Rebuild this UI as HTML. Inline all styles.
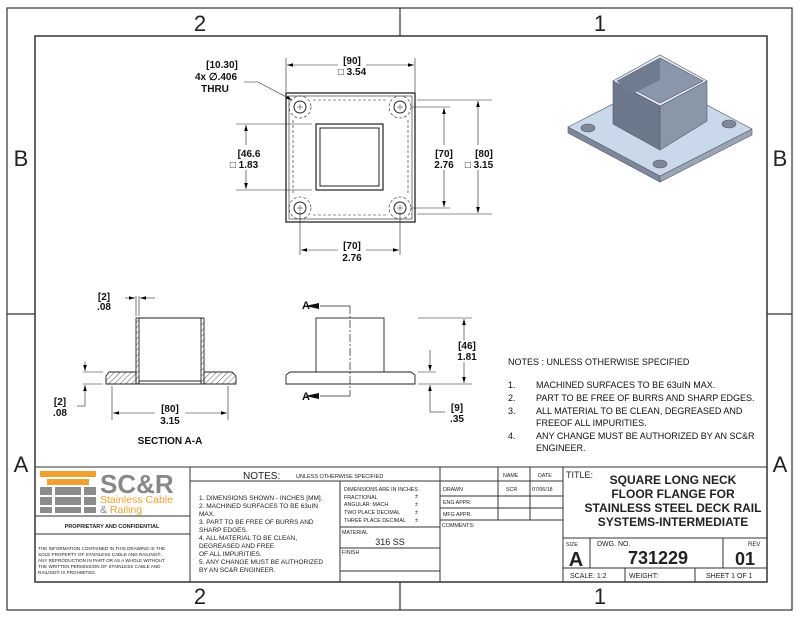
<!DOCTYPE html>
<html><head><style>body{margin:0;background:#fff}svg{display:block}text{font-family:"Liberation Sans",sans-serif}</style></head><body>
<svg width="800" height="618" viewBox="0 0 800 618" xmlns="http://www.w3.org/2000/svg">
<defs>
<pattern id="h" width="4" height="4" patternUnits="userSpaceOnUse" patternTransform="rotate(45)"><line x1="0" y1="0" x2="0" y2="4" stroke="#333" stroke-width="0.8"/></pattern>
<marker id="a" markerWidth="10" markerHeight="6" refX="10" refY="3" orient="auto-start-reverse"><path d="M0,0 L10,3 L0,6z" fill="#000"/></marker>
</defs>
<g fill="none" stroke="#333" stroke-width="1.2">
<rect x="7" y="8" width="785" height="602"/>
<rect x="35" y="36" width="732" height="546" stroke-width="1.5"/>
<line x1="400" y1="8" x2="400" y2="36"/><line x1="400" y1="582" x2="400" y2="610"/>
<line x1="7" y1="314" x2="35" y2="314"/><line x1="767" y1="314" x2="792" y2="314"/>
</g>
<g font-size="22" fill="#222" text-anchor="middle" font-family="Liberation Sans">
<text x="200" y="31">2</text><text x="600" y="31">1</text>
<text x="200" y="604">2</text><text x="600" y="604">1</text>
<text x="21" y="166">B</text><text x="780" y="166">B</text>
<text x="21" y="472">A</text><text x="780" y="472">A</text>
</g>
<g fill="none" stroke="#222" stroke-width="1">
<rect x="286" y="93" width="129" height="129" stroke-width="1.3"/>
<rect x="289" y="96" width="123" height="123" stroke-width="0.6"/>
<rect x="316" y="124" width="67" height="66" stroke-width="1.2"/>
<rect x="320" y="128" width="59" height="58"/>
<path d="M313,100 H388 M313,215 H388 M293,120 V195 M408,120 V195" stroke-dasharray="3,2" stroke-width="0.6"/>
<g stroke-dasharray="3,2" stroke-width="0.6"><circle cx="300" cy="107" r="11"/><circle cx="400" cy="107" r="11"/><circle cx="300" cy="208" r="11"/><circle cx="400" cy="208" r="11"/></g>
<circle cx="300" cy="107" r="6"/><circle cx="400" cy="107" r="6"/><circle cx="300" cy="208" r="6"/><circle cx="400" cy="208" r="6"/>
<path d="M297,107h6M300,104v6M397,107h6M400,104v6M297,208h6M300,205v6M397,208h6M400,205v6" stroke-width="0.5"/>
<g stroke-width="0.6">
<line x1="286" y1="58" x2="286" y2="92"/><line x1="415" y1="58" x2="415" y2="92"/>
<line x1="287" y1="65" x2="338" y2="65" marker-start="url(#a)"/><line x1="366" y1="65" x2="414" y2="65" marker-end="url(#a)"/>
<line x1="300" y1="212" x2="300" y2="255"/><line x1="400" y1="212" x2="400" y2="255"/>
<line x1="301" y1="250" x2="338" y2="250" marker-start="url(#a)"/><line x1="366" y1="250" x2="399" y2="250" marker-end="url(#a)"/>
<line x1="236" y1="124" x2="312" y2="124"/><line x1="236" y1="190" x2="312" y2="190"/>
<line x1="246" y1="125" x2="246" y2="145" marker-start="url(#a)"/><line x1="246" y1="170" x2="246" y2="189" marker-end="url(#a)"/>
<line x1="412" y1="107" x2="450" y2="107"/><line x1="412" y1="208" x2="450" y2="208"/>
<line x1="444" y1="108" x2="444" y2="145" marker-start="url(#a)"/><line x1="444" y1="170" x2="444" y2="207" marker-end="url(#a)"/>
<line x1="417" y1="100" x2="492" y2="100"/><line x1="417" y1="214" x2="492" y2="214"/>
<line x1="478" y1="101" x2="478" y2="145" marker-start="url(#a)"/><line x1="478" y1="170" x2="478" y2="213" marker-end="url(#a)"/>
<path d="M244,82 H258 L292,100" marker-end="url(#a)"/>
</g></g>
<g font-size="10" font-weight="bold" fill="#111" text-anchor="middle">
<text x="352" y="64">[90]</text><text x="352" y="75">□ 3.54</text>
<text x="352" y="249">[70]</text><text x="352" y="261">2.76</text>
<text x="249" y="157">[46.6</text><text x="244" y="168">□  1.83</text>
<text x="444" y="157">[70]</text><text x="444" y="168">2.76</text>
<text x="484" y="157">[80]</text><text x="479" y="168">□ 3.15</text>
<text x="222" y="68">[10.30]</text><text x="216" y="80">4x ∅.406</text><text x="215" y="92">THRU</text>
</g>
<g stroke="#222" stroke-width="0.9">
<path d="M106,376 L109,372 H136 V384 H106Z" fill="url(#h)"/>
<path d="M204,372 H232 L236,376 V384 H204Z" fill="url(#h)"/>
<rect x="136" y="318" width="3" height="66" fill="url(#h)"/>
<rect x="201" y="318" width="3" height="66" fill="url(#h)"/>
<path d="M139,318 H201 M106,384 H236 M139,381 H201" fill="none"/>
</g>
<g fill="none" stroke="#222" stroke-width="0.6">
<line x1="136" y1="296" x2="136" y2="316"/><line x1="139" y1="296" x2="139" y2="316"/>
<line x1="125" y1="298" x2="135" y2="298" marker-end="url(#a)"/><line x1="155" y1="298" x2="140" y2="298" marker-end="url(#a)"/>
<line x1="83" y1="372" x2="103" y2="372"/><line x1="83" y1="384" x2="103" y2="384"/>
<line x1="85" y1="362" x2="85" y2="371" marker-end="url(#a)"/><line x1="85" y1="406" x2="85" y2="385" marker-end="url(#a)"/><path d="M85,406 H77"/>
<line x1="112" y1="386" x2="112" y2="420"/><line x1="228" y1="386" x2="228" y2="420"/>
<line x1="113" y1="413" x2="155" y2="413" marker-start="url(#a)"/><line x1="185" y1="413" x2="227" y2="413" marker-end="url(#a)"/>
</g>
<g font-size="10" font-weight="bold" fill="#111" text-anchor="middle">
<text x="104" y="300">[2]</text><text x="104" y="310">.08</text>
<text x="60" y="405">[2]</text><text x="60" y="416">.08</text>
<text x="170" y="412">[80]</text><text x="170" y="424">3.15</text>
<text x="170" y="444">SECTION A-A</text>
</g>
<g fill="none" stroke="#222" stroke-width="0.9">
<rect x="316" y="318" width="68" height="54"/>
<path d="M286,375 L290,372 H411 L415,375 V384 H286Z"/>
<line x1="350" y1="306" x2="350" y2="396" stroke-dasharray="8,2,2,2" stroke-width="0.7"/>
<path d="M350,306 H320 M350,396 H320" stroke-width="0.7"/>
<g stroke-width="0.6">
<line x1="418" y1="318" x2="472" y2="318"/><line x1="418" y1="384" x2="472" y2="384"/>
<line x1="464" y1="319" x2="464" y2="340" marker-start="url(#a)"/><line x1="464" y1="362" x2="464" y2="383" marker-end="url(#a)"/>
<line x1="418" y1="372" x2="436" y2="372"/>
<line x1="430" y1="350" x2="430" y2="371" marker-end="url(#a)"/><line x1="430" y1="412" x2="430" y2="385" marker-end="url(#a)"/><path d="M430,412 H445"/>
</g></g>
<path d="M305,306 l14,-3 v6z M305,396 l14,-3 v6z" fill="#111"/>
<g font-size="10" font-weight="bold" fill="#111" text-anchor="middle">
<text x="310" y="309" text-anchor="end" font-size="11">A</text><text x="310" y="400" text-anchor="end" font-size="11">A</text>
<text x="467" y="349">[46]</text><text x="467" y="360">1.81</text>
<text x="457" y="411">[9]</text><text x="457" y="422">.35</text>
</g>
<g stroke="#556" stroke-width="0.6">
<path d="M568,127 L660,176 L660,182 L568,133Z" fill="#7d899a"/>
<path d="M660,176 L752,129 L752,135 L660,182Z" fill="#9aa6b6"/>
<path d="M568,127 L660,80 L752,129 L660,176Z" fill="#cad8ec"/>
<ellipse cx="588" cy="128" rx="7" ry="4" fill="#7d8898"/><ellipse cx="729" cy="124" rx="7" ry="4" fill="#7d8898"/><ellipse cx="660" cy="164" rx="7" ry="4" fill="#7d8898"/>
<path d="M613,81 L660,106 L660,150 L613,124Z" fill="#6c798c"/>
<path d="M660,106 L707,81 L707,121 L660,150Z" fill="#8a97a9"/>
<path d="M613,81 L660,55 L707,81 L660,106Z" fill="#e3ebf5"/>
<path d="M617,81 L660,58 L703,81 L660,103Z" fill="#8a97ab"/>
<path d="M617,81 L660,58 L660,80 L630,95Z" fill="#6f7c8f" stroke="none"/>
</g>
<g font-size="9" fill="#111">
<text x="508" y="365">NOTES : UNLESS OTHERWISE SPECIFIED</text>
<text x="508" y="388">1.</text><text x="536" y="388">MACHINED SURFACES TO BE 63uIN MAX.</text>
<text x="508" y="401">2.</text><text x="536" y="401">PART TO BE FREE OF BURRS AND SHARP EDGES.</text>
<text x="508" y="414">3.</text><text x="536" y="414">ALL MATERIAL TO BE CLEAN, DEGREASED AND</text>
<text x="536" y="426">FREEOF ALL IMPURITIES.</text>
<text x="508" y="439">4.</text><text x="536" y="439">ANY CHANGE MUST BE AUTHORIZED BY AN SC&amp;R</text>
<text x="536" y="451">ENGINEER.</text>
</g>
<g fill="none" stroke="#333" stroke-width="1">
<rect x="35" y="467" width="732" height="115"/>
<line x1="190" y1="467" x2="190" y2="582"/>
<line x1="35" y1="516" x2="190" y2="516"/><line x1="35" y1="534" x2="190" y2="534"/>
<line x1="190" y1="481" x2="440" y2="481"/>
<line x1="340" y1="481" x2="340" y2="582"/>
<line x1="440" y1="467" x2="440" y2="582"/>
<line x1="498" y1="467" x2="498" y2="520"/><line x1="530" y1="467" x2="530" y2="520"/>
<line x1="440" y1="481" x2="563" y2="481"/><line x1="440" y1="496" x2="563" y2="496"/><line x1="440" y1="508" x2="563" y2="508"/><line x1="440" y1="520" x2="563" y2="520"/>
<line x1="340" y1="527" x2="440" y2="527"/><line x1="340" y1="548" x2="440" y2="548"/><line x1="340" y1="571" x2="440" y2="571"/>
<line x1="563" y1="467" x2="563" y2="582"/>
<line x1="563" y1="538" x2="767" y2="538"/><line x1="563" y1="568" x2="767" y2="568"/>
<line x1="590" y1="538" x2="590" y2="568"/><line x1="723" y1="538" x2="723" y2="568"/>
<line x1="625" y1="568" x2="625" y2="582"/><line x1="695" y1="568" x2="695" y2="582"/>
</g>
<g>
<rect x="40" y="471" width="56" height="6" fill="#f0a030"/>
<rect x="47" y="479" width="42" height="6" fill="#f0a030"/>
<g fill="#8c8c8c"><rect x="40" y="487" width="12" height="8"/><rect x="55" y="487" width="26" height="8"/><rect x="84" y="487" width="12" height="8"/>
<rect x="40" y="497" width="12" height="8"/><rect x="55" y="497" width="26" height="8"/><rect x="84" y="497" width="12" height="8"/>
<rect x="40" y="507" width="12" height="6"/><rect x="55" y="507" width="26" height="6"/><rect x="84" y="507" width="12" height="6"/></g>
<text x="100" y="493" font-size="26" font-weight="bold" fill="#888">SC&amp;R</text>
<text x="100" y="503" font-size="10.5" fill="#f0a030">Stainless Cable</text>
<text x="100" y="513" font-size="10.5" fill="#f0a030"><tspan fill="#888">&amp;</tspan> Railing</text>
</g>
<g fill="#222">
<text x="112" y="528" font-size="5.5" font-weight="bold" text-anchor="middle">PROPRIETARY AND CONFIDENTIAL</text>
<g font-size="4.6"><text x="38" y="550">THE INFORMATION CONTAINED IN THIS DRAWING IS THE</text><text x="38" y="556">SOLE PROPERTY OF STAINLESS CABLE AND RAILING®.</text><text x="38" y="562">ANY REPRODUCTION IN PART OR AS A WHOLE WITHOUT</text><text x="38" y="568">THE WRITTEN PERMISSION OF STAINLESS CABLE AND</text><text x="38" y="574">RAILING® IS PROHIBITED.</text></g>
<text x="243" y="479" font-size="10">NOTES:</text><text x="296" y="478" font-size="5.5">UNLESS OTHERWISE SPECIFIED</text>
<g font-size="6.5"><text x="199" y="500">1. DIMENSIONS SHOWN - INCHES [MM].</text><text x="199" y="508">2. MACHINED SURFACES TO BE 63uIN</text><text x="199" y="516">MAX.</text><text x="199" y="524">3. PART TO BE FREE OF BURRS AND</text><text x="199" y="532">SHARP EDGES.</text><text x="199" y="540">4. ALL MATERIAL TO BE CLEAN,</text><text x="199" y="548">DEGREASED AND FREE</text><text x="199" y="556">OF ALL IMPURITIES.</text><text x="199" y="564">5. ANY CHANGE MUST BE AUTHORIZED</text><text x="199" y="572">BY AN SC&amp;R ENGINEER.</text></g>
<g font-size="5.3"><text x="344" y="491">DIMENSIONS ARE IN INCHES</text><text x="344" y="499">FRACTIONAL</text><text x="415" y="498">±</text><text x="344" y="506">ANGULAR: MACH</text><text x="415" y="506">±</text><text x="344" y="514">TWO PLACE DECIMAL</text><text x="415" y="514">±</text><text x="344" y="522">THREE PLACE DECIMAL</text><text x="415" y="522">±</text>
<text x="342" y="534">MATERIAL</text><text x="342" y="554">FINISH</text>
<text x="503" y="477">NAME</text><text x="538" y="477">DATE</text><text x="443" y="491">DRAWN</text><text x="506" y="491">SCR</text><text x="532" y="491">07/06/18</text><text x="443" y="504">ENG APPR.</text><text x="443" y="516">MFG APPR.</text><text x="442" y="527">COMMENTS:</text>
<text x="566" y="546">SIZE</text><text x="597" y="546" font-size="7">DWG.  NO.</text><text x="748" y="546" font-size="6">REV</text></g>
<text x="390" y="545" font-size="9" text-anchor="middle">316 SS</text>
<text x="566" y="478" font-size="9">TITLE:</text>
<g font-size="12" font-weight="bold" text-anchor="middle"><text x="673" y="484">SQUARE LONG NECK</text><text x="673" y="498">FLOOR FLANGE FOR</text><text x="673" y="512">STAINLESS STEEL DECK RAIL</text><text x="673" y="526">SYSTEMS-INTERMEDIATE</text></g>
<text x="576" y="566" font-size="20" font-weight="bold" text-anchor="middle">A</text>
<text x="658" y="564" font-size="18" font-weight="bold" text-anchor="middle">731229</text>
<text x="745" y="565" font-size="18" font-weight="bold" text-anchor="middle">01</text>
<g font-size="7"><text x="570" y="578">SCALE: 1:2</text><text x="629" y="578">WEIGHT:</text><text x="706" y="578">SHEET 1 OF 1</text></g>
</g>
</svg>
</body></html>
